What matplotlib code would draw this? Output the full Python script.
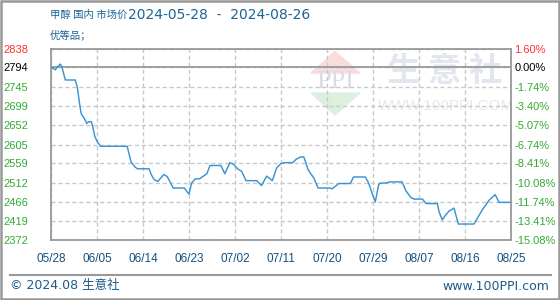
import matplotlib.pyplot as plt
from matplotlib.patches import Polygon, Rectangle
from matplotlib.lines import Line2D

# price readings (day offset from 2024-05-28, yuan/ton)
days = [0, 0.84, 1.23, 1.82, 2.15, 2.8, 4.75, 5.15, 5.6, 5.9, 6.6, 7.0, 7.4, 7.9,
        8.2, 8.55, 9.05, 9.7, 14.9, 15.3, 15.7, 16.4, 16.9, 19.2, 19.6, 20.15,
        20.9, 21.5, 22.1, 22.75, 23.9, 26.1, 26.55, 27.0, 27.5, 28.2, 29.15, 29.8,
        30.5, 31.1, 33.25, 34.0, 35.0, 35.7, 36.5, 37.3, 38.15, 40.25, 41.2, 42.2,
        43.3, 44.15, 45.0, 45.65, 47.3, 47.95, 48.8, 49.45, 49.75, 50.3, 50.7,
        51.4, 52.25, 54.6, 55.0, 56.3, 58.55, 59.2, 61.5, 62.15, 62.8, 63.45,
        64.1, 64.4, 65.4, 66.4, 68.7, 69.4, 70.4, 71.0, 72.65, 73.4, 75.6, 75.9,
        76.55, 77.2, 77.9, 78.5, 78.85, 79.3, 79.7, 82.75, 83.4, 84.4, 85.7, 86.9,
        87.65, 90]
prices = [2794, 2788, 2794, 2802, 2794, 2763, 2763, 2745, 2704, 2681, 2667, 2657,
          2661, 2661, 2647, 2626, 2612, 2601, 2601, 2581, 2562, 2551, 2546, 2546,
          2532, 2520, 2515, 2524, 2532, 2527, 2499, 2499, 2491, 2484, 2511, 2521,
          2522, 2528, 2534, 2554, 2554, 2534, 2561, 2557, 2546, 2540, 2517, 2517,
          2505, 2528, 2517, 2548, 2559, 2561, 2561, 2569, 2575, 2575, 2565, 2544,
          2536, 2524, 2499, 2499, 2497, 2510, 2510, 2526, 2526, 2511, 2487, 2465,
          2507, 2511, 2511, 2514, 2514, 2493, 2476, 2472, 2472, 2461, 2461, 2442,
          2421, 2433, 2443, 2447, 2450, 2429, 2411, 2411, 2425, 2446, 2469, 2483,
          2464, 2464]

x_ticks = [0, 9, 18, 27, 36, 45, 54, 63, 72, 81, 90]
x_labels = ["05/28", "06/05", "06/14", "06/23", "07/02", "07/11",
            "07/20", "07/29", "08/07", "08/16", "08/25"]
price_ticks = [2838, 2794, 2745, 2699, 2652, 2605, 2559, 2512, 2466, 2419, 2372]
pct_labels = ["1.60%", "0.00%", "-1.74%", "-3.40%", "-5.07%", "-6.74%",
              "-8.41%", "-10.08%", "-11.74%", "-13.41%", "-15.08%"]
base = 2794

W, H = 560, 300


def fx(px):
    return px / W


def fy(py):
    return 1 - py / H


fig = plt.figure(figsize=(5.6, 3.0), dpi=100)
ax = fig.add_axes([fx(51), fy(240), fx(511) - fx(51), fy(49.3) - fy(240)])
ax.patch.set_visible(False)

ax.plot(days, prices, color="#3a94d4", lw=1.05, zorder=3)
ax.axhline(base, color="#999999", lw=1.3, zorder=2)

ax.set_xlim(0, 90)
ax.set_ylim(2372, 2838)
ax.set_xticks(x_ticks)
ax.set_xticklabels(x_labels, family="Liberation Sans", fontsize=8.5, color="#14507e")
ax.set_yticks(price_ticks)
ax.set_yticklabels([str(v) for v in price_ticks], family="Liberation Sans", fontsize=8)
ax.grid(True, color="#c8c8c8", lw=1, linestyle=(0, (3, 2)), zorder=1)
ax.tick_params(axis="x", length=0, pad=9)
ax.tick_params(axis="y", length=0, pad=16.5)
for sp in ax.spines.values():
    sp.set_color("#999999")
    sp.set_linewidth(1.3)


def tick_color(v):
    if v > base:
        return "#ff3333"
    if v == base:
        return "#000000"
    return "#33aa33"


for lab, v in zip(ax.get_yticklabels(), price_ticks):
    lab.set_color(tick_color(v))

ax2 = ax.twinx()
ax2.patch.set_visible(False)
ax2.set_ylim(2372, 2838)
ax2.set_yticks(price_ticks)
ax2.set_yticklabels(pct_labels, family="Liberation Sans", fontsize=8)
ax2.tick_params(axis="y", length=0, pad=2.5)
for sp in ax2.spines.values():
    sp.set_visible(False)
for lab, v in zip(ax2.get_yticklabels(), price_ticks):
    lab.set_color(tick_color(v))

# watermark
fig.patches.append(Polygon([(fx(311), fy(73)), (fx(335), fy(51.5)), (fx(360), fy(73))],
                           closed=True, transform=fig.transFigure, color="#fadcdc",
                           zorder=-1))
fig.patches.append(Polygon([(fx(311), fy(93)), (fx(360), fy(93)), (fx(335), fy(115))],
                           closed=True, transform=fig.transFigure, color="#dcf0e0",
                           zorder=-1))
fig.text(fx(335), fy(82), "PPI", ha="center", va="center", fontsize=19,
         family="Liberation Serif", color="#d8dde9", zorder=-1)
fig.text(fx(445), fy(72), "生 意 社", ha="center", va="center", fontsize=24,
         family="Noto Sans CJK SC", weight="bold", color="#e2e6ee", zorder=-1)
fig.text(fx(446), fy(106), "WWW.100PPI.COM", ha="center", va="center", fontsize=11,
         family="Liberation Sans", color="#e6e8ef", zorder=-1)

# titles
fig.text(fx(50), fy(15), "甲醇 国内 市场价", ha="left", va="center", fontsize=7.5,
         family="Noto Sans CJK SC", color="#1b6497")
fig.text(fx(128), fy(15), "2024-05-28  -  2024-08-26", ha="left", va="center",
         fontsize=10, family="DejaVu Sans", color="#1b6497")
fig.text(fx(50), fy(35), "优等品；", ha="left", va="center", fontsize=7.5,
         family="Noto Sans CJK SC", color="#1b6497")

# footer
fig.add_artist(Line2D([fx(10), fx(551)], [fy(275), fy(275)], color="#999999", lw=1.5))
fig.text(fx(10), fy(286), "© 2024.08 生意社", ha="left", va="center", fontsize=9,
         family=["DejaVu Sans", "Noto Sans CJK SC"], color="#1b5a8a")
fig.text(fx(549), fy(286), "www.100PPI.com", ha="right", va="center", fontsize=9,
         family="DejaVu Sans", color="#1b5a8a")

fig.patches.append(Rectangle((0.0015, 0.003), 0.997, 0.994, transform=fig.transFigure,
                             fill=False, edgecolor="#999999", lw=1.8))

fig.savefig("out.png", dpi=100)
